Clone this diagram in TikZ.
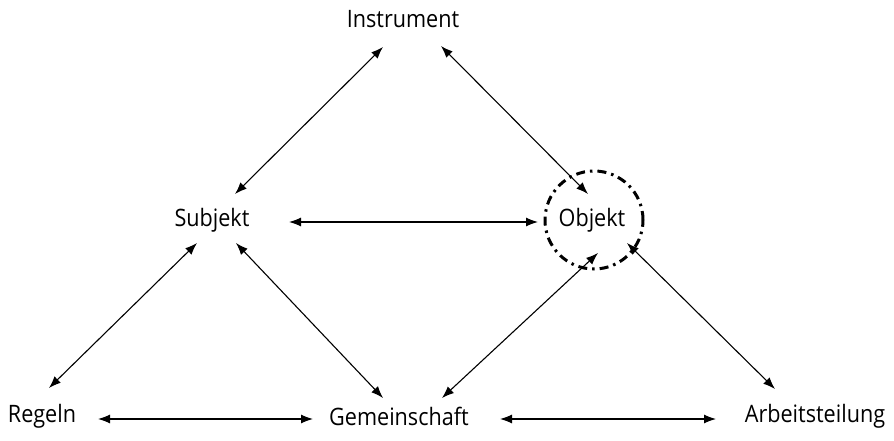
\documentclass[tikz,border=0pt]{standalone}
\usepackage{fontspec}
\setmainfont[FakeStretch=0.9]{Open Sans}
\usetikzlibrary{arrows.meta}
\begin{document}
\begin{tikzpicture}[x=1pt,y=-1pt,
  lbl/.style={font=\fontsize{24}{27}\selectfont, inner sep=0pt},
  arr/.style={line width=1.1pt, {Latex[length=12pt,width=9pt]}-{Latex[length=12pt,width=9pt]}},
  focus/.style={line width=3pt, dash pattern=on 9pt off 5pt on 2.5pt off 5pt}]
\useasboundingbox (0,0) rectangle (894,441);
\node[lbl] (inst) at (403,19) {Instrument};
\node[lbl] (subj) at (212,220) {Subjekt};
\node[lbl] (obj) at (592,220) {Objekt};
\node[lbl] (reg) at (42,416) {Regeln};
\node[lbl] (gem) at (399,416) {Gemeinschaft};
\node[lbl] (arb) at (815,416) {Arbeitsteilung};
\node[focus, draw, circle, minimum size=98pt] (ring) at (594,220) {};
\draw[arr] ([shift={(-20,28)}]inst.center) -- ([shift={(23,-26)}]subj.center);
\draw[arr] ([shift={(38,27)}]inst.center) -- ([shift={(-4,-26)}]obj.center);
\draw[arr] ([shift={(77,2)}]subj.center) -- ([shift={(-54,2)}]obj.center);
\draw[arr] ([shift={(-15,23)}]subj.center) -- ([shift={(7,-28)}]reg.center);
\draw[arr] ([shift={(24,23)}]subj.center) -- ([shift={(-16,-18)}]gem.center);
\draw[arr] ([shift={(6,33)}]obj.center) -- ([shift={(43,-18)}]gem.center);
\draw[arr] ([shift={(35,23)}]obj.center) -- ([shift={(-40,-27)}]arb.center);
\draw[arr] ([shift={(56,3)}]reg.center) -- ([shift={(-86,3)}]gem.center);
\draw[arr] ([shift={(101,3)}]gem.center) -- ([shift={(-99,3)}]arb.center);
\end{tikzpicture}
\end{document}
